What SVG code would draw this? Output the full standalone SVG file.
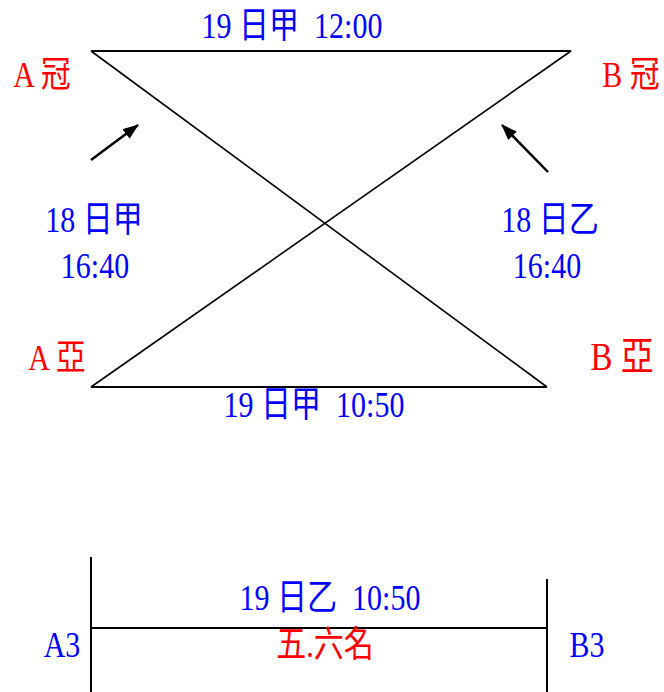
<svg xmlns="http://www.w3.org/2000/svg" width="664" height="692" viewBox="0 0 664 692">
<defs>
<style>
text{font-family:"Liberation Serif","Noto Sans CJK TC",serif;font-size:30px;white-space:pre}
.b{fill:#0000ff}
.r{fill:#ff0000}
.ln{stroke:#000;stroke-width:2;fill:none}
.dg{stroke:#000;stroke-width:1.6;fill:none}
.ar{stroke:#000;stroke-width:2.5;fill:none}
</style>
<marker id="ah" viewBox="0 0 16 12" refX="15" refY="6" markerWidth="16" markerHeight="12" markerUnits="userSpaceOnUse" orient="auto">
<path d="M0,0 L16,6 L0,12 z" fill="#000"/>
</marker>
</defs>
<g id="connectors">
<line class="ln" x1="91" y1="51" x2="571" y2="51"/>
<line class="dg" x1="91" y1="51" x2="547" y2="387"/>
<line class="dg" x1="571" y1="51" x2="91" y2="387"/>
<line class="ln" x1="91" y1="387" x2="547" y2="387"/>
<line class="ar" x1="91" y1="160" x2="138" y2="125" marker-end="url(#ah)"/>
<line class="ar" x1="548" y1="172" x2="502" y2="125" marker-end="url(#ah)"/>
<line class="ln" x1="91" y1="557" x2="91" y2="692"/>
<line class="ln" x1="547" y1="579" x2="547" y2="692"/>
<line class="ln" x1="91" y1="628" x2="547" y2="628"/>
</g>
<g id="top-label"><text class="b" transform="translate(292,38) scale(1,1.2)" text-anchor="middle">19 日甲  12:00</text></g>
<g id="A-guan"><text class="r" transform="translate(42,87) scale(1,1.2)" text-anchor="middle">A 冠</text></g>
<g id="B-guan"><text class="r" transform="translate(631,87) scale(1,1.2)" text-anchor="middle">B 冠</text></g>
<g id="left-label"><text class="b" transform="translate(94,232) scale(1,1.2)" text-anchor="middle">18 日甲</text><text class="b" transform="translate(95,278) scale(1,1.2)" text-anchor="middle">16:40</text></g>
<g id="right-label"><text class="b" transform="translate(550,232) scale(1,1.2)" text-anchor="middle">18 日乙</text><text class="b" transform="translate(547,278) scale(1,1.2)" text-anchor="middle">16:40</text></g>
<g id="A-ya"><text class="r" transform="translate(57,370) scale(1,1.2)" text-anchor="middle">A 亞</text></g>
<g id="B-ya"><text class="r" transform="translate(622,370) scale(1,1.2)" text-anchor="middle" style="font-size:33px">B 亞</text></g>
<g id="bottom-label"><text class="b" transform="translate(314,417) scale(1,1.2)" text-anchor="middle">19 日甲  10:50</text></g>
<g id="final-label"><text class="b" transform="translate(330,610) scale(1,1.2)" text-anchor="middle">19 日乙  10:50</text></g>
<g id="A3"><text class="b" transform="translate(62,657) scale(1,1.2)" text-anchor="middle">A3</text></g>
<g id="B3"><text class="b" transform="translate(587,657) scale(1,1.2)" text-anchor="middle">B3</text></g>
<g id="place"><text class="r" transform="translate(325,657) scale(1,1.2)" text-anchor="middle">五.六名</text></g>
</svg>
